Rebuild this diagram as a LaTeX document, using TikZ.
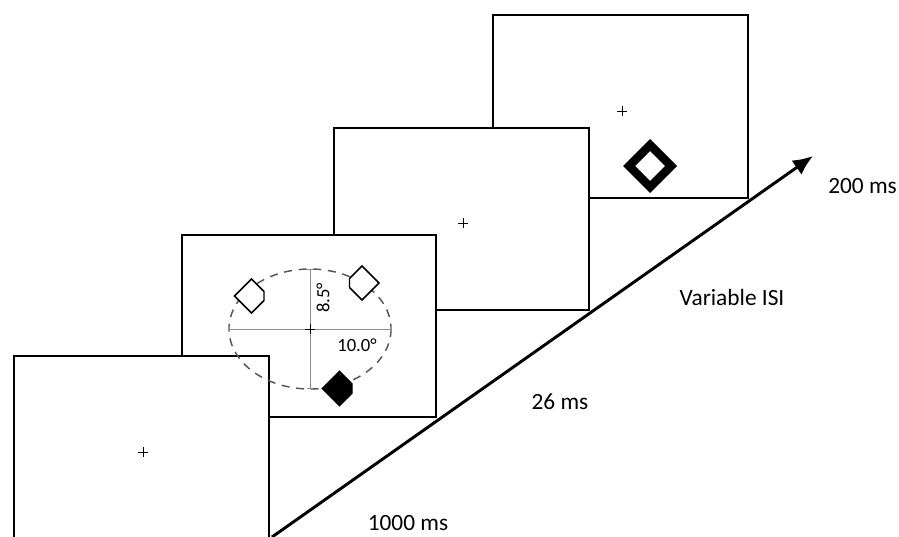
\documentclass[tikz,border=0pt]{standalone}
\usepackage{fontspec}
\setmainfont{Carlito}
\usetikzlibrary{arrows.meta,positioning}
\usepackage{xcolor}
\definecolor{axisGray}{HTML}{8C8C8C}
\definecolor{ringGray}{HTML}{555555}

\begin{document}
\begin{tikzpicture}[x=0.75pt,y=-0.75pt,>={Latex[length=15pt,width=13pt]}]
\tikzstyle{screen}=[draw=black,fill=white,line width=1.5pt,minimum width=191pt,minimum height=137pt,inner sep=0pt]
\tikzstyle{duration}=[font=\fontsize{17.5}{20}\selectfont,inner sep=0pt]
\tikzstyle{degree}=[font=\fontsize{14}{16}\selectfont,inner sep=0pt]
\tikzset{fixation/.pic={\draw[line width=0.6pt] (-5,0) -- (5,0) (0,-5) -- (0,5);},
  cue/.pic={\path[pic actions,line width=1.1pt,line join=miter] (-17,0) -- (0,-17) -- (12.5,-4.5) -- (12.5,4.5) -- (0,17) -- cycle;}}
\useasboundingbox (0,0) rectangle (899,536);
% screens, drawn back to front
\node[screen] (s4) at (620.5,106.5) {};
\node[screen] (s3) at (461.5,219) {};
\node[screen] (s2) at (309,326) {};
\node[screen] (s1) at (141.5,447) {};
% fixation crosses
\pic at (143,452) {fixation};
\pic at (463,223) {fixation};
\pic at (622,111) {fixation};
% search display
\draw[ringGray,line width=1.1pt,dash pattern=on 6pt off 5pt] (310,329) ellipse [x radius=81,y radius=60];
\draw[axisGray,line width=0.6pt,{Bar[width=4pt]}-{Bar[width=4pt]}] (229,329) -- (391,329);
\draw[axisGray,line width=0.6pt,{Bar[width=4pt]}-{Bar[width=4pt]}] (310,269) -- (310,389);
\pic at (310,329) {fixation};
\node[degree,rotate=90] (vAxis) at (323,298) {8.5°};
\node[degree] (hAxis) at (357,345) {10.0°};
\pic[draw,fill=white] at (251.5,296) {cue};
\pic[draw,fill=white,xscale=-1] at (362,283) {cue};
\pic[draw,fill=black] at (339.5,388.5) {cue};
% target
\fill[even odd rule] (650,139) -- (677,166) -- (650,193) -- (623,166) -- cycle
  (650,151) -- (665,166) -- (650,181) -- (635,166) -- cycle;
% time axis
\coordinate (t0) at (272,537);
\coordinate (t1) at (813,156);
\draw[->,line width=2.2pt] (t0) -- (t1);
\node[duration] (d1) at (408,523) {1000 ms};
\node[duration] (d2) at (560,402) {26 ms};
\node[duration] (d3) at (732,297) {Variable ISI};
\node[duration] (d4) at (862.5,186) {200 ms};
\end{tikzpicture}
\end{document}
